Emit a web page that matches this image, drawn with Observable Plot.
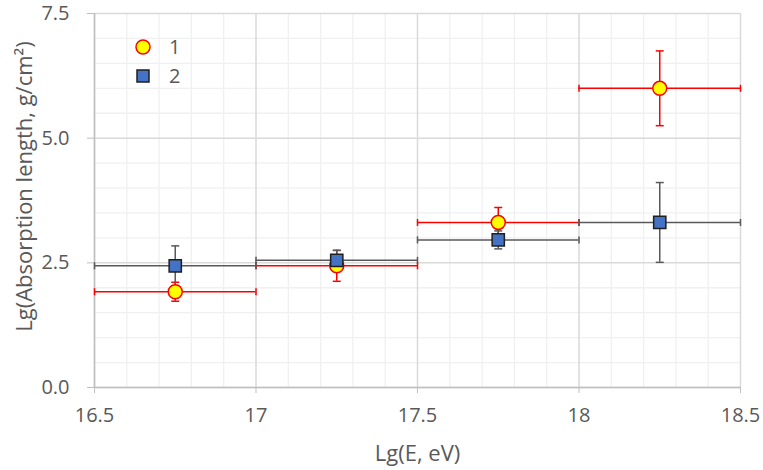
<!DOCTYPE html>
<html><head><meta charset="utf-8">
<script src="https://cdn.jsdelivr.net/npm/d3@7"></script>
<script src="https://cdn.jsdelivr.net/npm/@observablehq/plot@0.6"></script>
<style>
body{margin:0;background:#fff;}
#chart{position:relative;width:763px;height:470px;font-family:"Open Sans",sans-serif;}
#legend{position:absolute;left:0;top:0;pointer-events:none;}
</style></head><body><div id="chart"></div>
<script>
// Bins (x ranges) and centers
const binLo = [16.5, 17, 17.5, 18];
const binHi = [17, 17.5, 18, 18.5];
const binMid = [16.75, 17.25, 17.75, 18.25];
// Series 1 (yellow circles)
const s1Y = [1.92, 2.44, 3.31, 6.0];
const s1Err = [0.19, 0.31, 0.30, 0.75];
// Series 2 (blue squares)
const s2Y = [2.44, 2.55, 2.96, 3.31];
const s2Err = [0.40, 0.20, 0.18, 0.80];
// Ticks
const xTicks = [16.5, 17, 17.5, 18, 18.5];
const yTicks = [0, 2.5, 5, 7.5];
const xMinor = [16.6, 16.7, 16.8, 16.9, 17.1, 17.2, 17.3, 17.4, 17.6, 17.7, 17.8, 17.9, 18.1, 18.2, 18.3, 18.4];
const yMinor = [0.5, 1, 1.5, 2, 3, 3.5, 4, 4.5, 5.5, 6, 6.5, 7];
const seriesNames = ["1", "2"];

const s1 = binMid.map((x, i) => ({x, lo: binLo[i], hi: binHi[i], y: s1Y[i], e: s1Err[i]}));
const s2 = binMid.map((x, i) => ({x, lo: binLo[i], hi: binHi[i], y: s2Y[i], e: s2Err[i]}));

const hline = {draw(ctx, size){const h = Math.sqrt(size/Math.PI); ctx.moveTo(-h,0); ctx.lineTo(h,0);}};
const vline = {draw(ctx, size){const h = Math.sqrt(size/Math.PI); ctx.moveTo(0,-h); ctx.lineTo(0,h);}};

function errMarks(data, color) {
  return [
    Plot.ruleY(data, {y: "y", x1: "lo", x2: "hi", stroke: color, strokeWidth: 1.5}),
    Plot.ruleX(data, {x: "x", y1: d => d.y - d.e, y2: d => d.y + d.e, stroke: color, strokeWidth: 1.5}),
    Plot.dot(data, {x: "x", y: d => d.y - d.e, symbol: hline, r: 4, fill: "none", stroke: color, strokeWidth: 1.5}),
    Plot.dot(data, {x: "x", y: d => d.y + d.e, symbol: hline, r: 4, fill: "none", stroke: color, strokeWidth: 1.5}),
    Plot.dot(data, {x: "lo", y: "y", symbol: vline, r: 3.5, fill: "none", stroke: color, strokeWidth: 1.5}),
    Plot.dot(data, {x: "hi", y: "y", symbol: vline, r: 3.5, fill: "none", stroke: color, strokeWidth: 1.5})
  ];
}

const font = '"Open Sans", sans-serif';
const plot = Plot.plot({
  width: 763, height: 470,
  marginLeft: 94, marginRight: 23, marginTop: 13, marginBottom: 83,
  style: {fontSize: "20px", fontFamily: font, color: "#595959", background: "#fff"},
  x: {domain: [16.5, 18.5]},
  y: {domain: [0, 7.5]},
  marks: [
    Plot.gridX(xMinor, {stroke: "#f0f0f0", strokeOpacity: 1, strokeWidth: 1.3}),
    Plot.gridY(yMinor, {stroke: "#f0f0f0", strokeOpacity: 1, strokeWidth: 1.3}),
    Plot.gridX(xTicks, {stroke: "#d9d9d9", strokeOpacity: 1, strokeWidth: 1.5}),
    Plot.gridY(yTicks, {stroke: "#d9d9d9", strokeOpacity: 1, strokeWidth: 1.5}),
    Plot.ruleY([0], {stroke: "#bfbfbf", strokeWidth: 1.5}),
    Plot.ruleX([16.5], {stroke: "#bfbfbf", strokeWidth: 1.5}),
    Plot.axisX(xTicks, {tickSize: 6, tickPadding: 14, stroke: "#bfbfbf", fill: "#595959", label: null, tickFormat: d => String(d)}),
    Plot.axisY(yTicks, {tickSize: 7, tickPadding: 18, stroke: "#bfbfbf", fill: "#595959", label: null, tickFormat: d3.format(".1f")}),
    Plot.text(["Lg(E, eV)"], {frameAnchor: "bottom", lineAnchor: "middle", textAnchor: "middle", dy: 66, fill: "#595959", fontSize: 22}),
    Plot.text(["Lg(Absorption length, g/cm²)"], {frameAnchor: "left", lineAnchor: "middle", textAnchor: "middle", dx: -70, dy: -14, rotate: -90, fill: "#595959", fontSize: 22}),
    ...errMarks(s1, "#ff0000"),
    ...errMarks(s2, "#595959"),
    Plot.dot(s1, {x: "x", y: "y", r: 7, fill: "#ffff00", stroke: "#ff0000", strokeWidth: 1.5}),
    Plot.dot(s2, {x: "x", y: "y", r: 6.9, symbol: "square", fill: "#4472c4", stroke: "#1f1f1f", strokeWidth: 1.5})
  ]
});
const chart = document.getElementById("chart");
chart.appendChild(plot);

// Legend overlay
const leg = d3.select(chart).append("svg").attr("id", "legend").attr("width", 763).attr("height", 470);
leg.append("circle").attr("cx", 143).attr("cy", 47).attr("r", 7).attr("fill", "#ffff00").attr("stroke", "#ff0000").attr("stroke-width", 1.5);
leg.append("rect").attr("x", 137).attr("y", 70).attr("width", 12).attr("height", 12).attr("fill", "#4472c4").attr("stroke", "#1f1f1f").attr("stroke-width", 1.5);
leg.selectAll("text").data(seriesNames).join("text")
  .attr("x", 169).attr("y", (d, i) => 47 + i * 29).attr("dy", "0.35em")
  .attr("font-family", font).attr("font-size", 20).attr("fill", "#595959").text(d => d);
</script></body></html>
